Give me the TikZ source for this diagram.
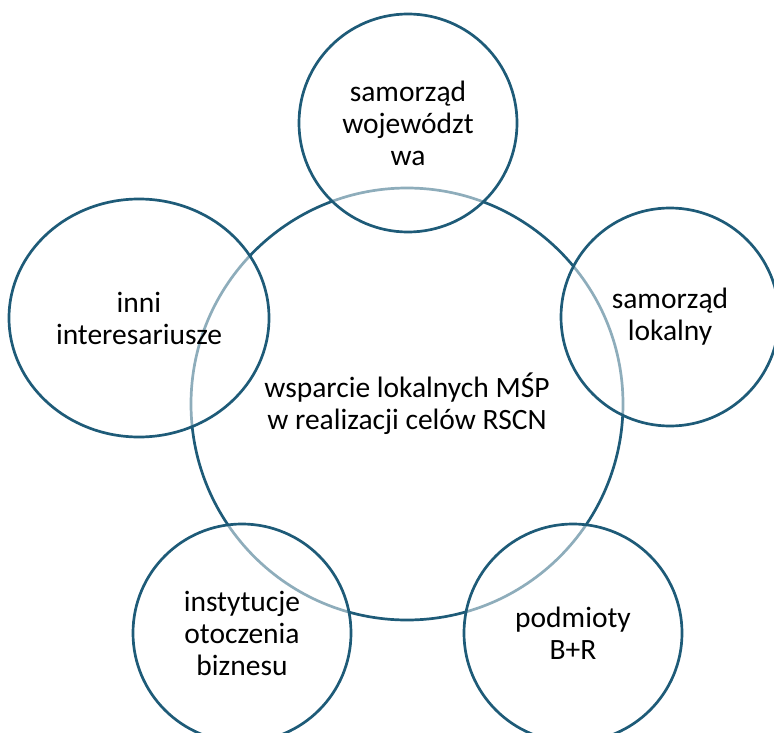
\documentclass[tikz,border=0pt]{standalone}
\usepackage{fontspec}
\setmainfont{Carlito}
\usetikzlibrary{shapes.geometric}
\definecolor{petrol}{HTML}{1E5B78}
\tikzstyle{hub}=[circle,draw=petrol,line width=2.7bp,minimum size=432bp,inner sep=0pt,align=center]
\tikzstyle{partner}=[circle,draw=petrol,line width=2.7bp,fill=white,fill opacity=0.5,draw opacity=1,text opacity=1,minimum size=218bp,inner sep=0pt,align=center]
\begin{document}
\begin{tikzpicture}[x=1bp,y=-1bp,font=\fontsize{29.5bp}{32bp}\selectfont]

    \useasboundingbox (0,0) rectangle (774,733);

    % big circle in the middle
    \node[hub] (wsparcie) at (407,404) {wsparcie lokalnych MŚP\\w realizacji celów RSCN};

    % partners round it
    \foreach \pos/ \name / \label in {{(408,123)/wojewodztwo/{samorząd\\województ\\wa}},
                                      {(670,317)/gmina/{samorząd\\lokalny}},
                                      {(573,633)/bir/{podmioty\\B+R}},
                                      {(242,633)/iob/{instytucje\\otoczenia\\biznesu}}}
        \node[partner] (\name) at \pos {\label};

    \node[partner,ellipse,minimum width=260bp,minimum height=238bp] (inni) at (139,318) {inni\\interesariusze};

\end{tikzpicture}
\end{document}
